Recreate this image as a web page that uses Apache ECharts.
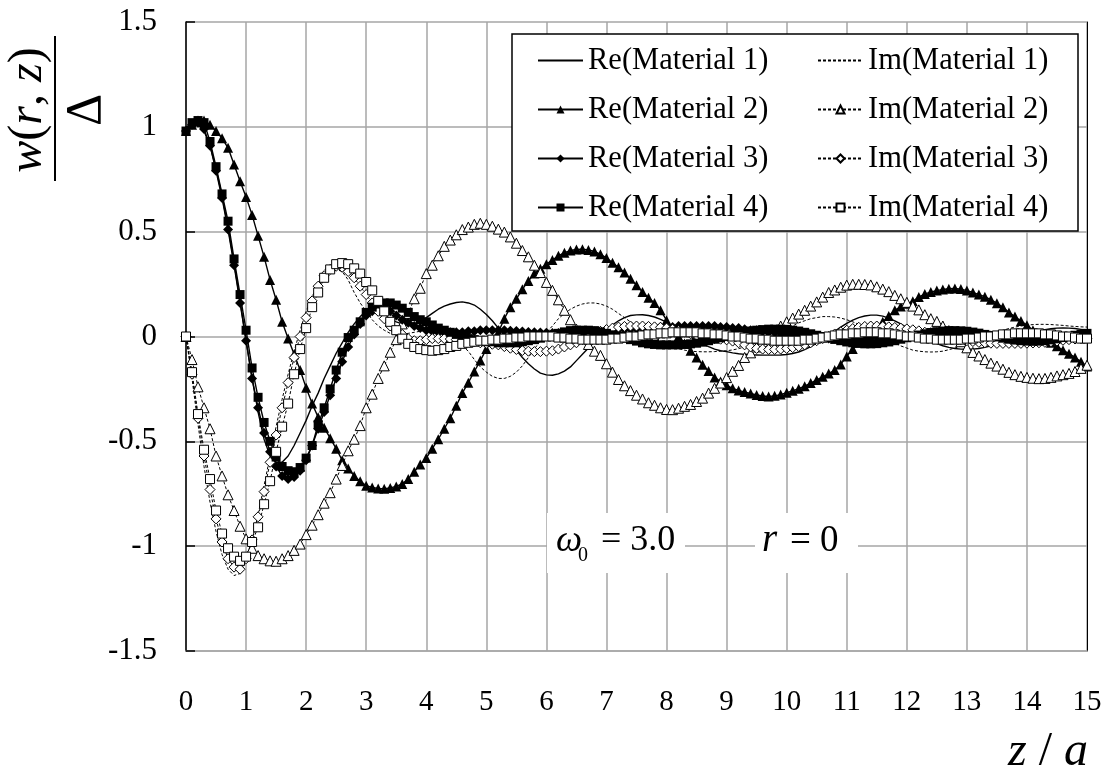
<!DOCTYPE html>
<html>
<head>
<meta charset="utf-8">
<script src="https://cdn.jsdelivr.net/npm/echarts@6/dist/echarts.min.js"></script>
<style>
html,body{margin:0;padding:0;background:#fff;}
#chart{width:1108px;height:777px;}
</style>
</head>
<body>
<div id="chart"></div>
<script>
const zValues = [0,0.1,0.2,0.3,0.4,0.5,0.6,0.7,0.8,0.9,
1,1.1,1.2,1.3,1.4,1.5,1.6,1.7,1.8,1.9,
2,2.1,2.2,2.3,2.4,2.5,2.6,2.7,2.8,2.9,
3,3.1,3.2,3.3,3.4,3.5,3.6,3.7,3.8,3.9,
4,4.1,4.2,4.3,4.4,4.5,4.6,4.7,4.8,4.9,
5,5.1,5.2,5.3,5.4,5.5,5.6,5.7,5.8,5.9,
6,6.1,6.2,6.3,6.4,6.5,6.6,6.7,6.8,6.9,
7,7.1,7.2,7.3,7.4,7.5,7.6,7.7,7.8,7.9,
8,8.1,8.2,8.3,8.4,8.5,8.6,8.7,8.8,8.9,
9,9.1,9.2,9.3,9.4,9.5,9.6,9.7,9.8,9.9,
10,10.1,10.2,10.3,10.4,10.5,10.6,10.7,10.8,10.9,
11,11.1,11.2,11.3,11.4,11.5,11.6,11.7,11.8,11.9,
12,12.1,12.2,12.3,12.4,12.5,12.6,12.7,12.8,12.9,
13,13.1,13.2,13.3,13.4,13.5,13.6,13.7,13.8,13.9,
14,14.1,14.2,14.3,14.4,14.5,14.6,14.7,14.8,14.9,
15];

const reM1 = [1.0,1.01,1.01,0.98,0.91,0.8,0.67,0.52,0.35,0.17,
-0.02,-0.2,-0.36,-0.49,-0.57,-0.6,-0.6,-0.57,-0.52,-0.46,
-0.4,-0.33,-0.27,-0.2,-0.14,-0.08,-0.03,0.02,0.06,0.095,
0.12,0.12,0.11,0.1,0.085,0.07,0.06,0.055,0.06,0.07,
0.09,0.11,0.13,0.145,0.155,0.162,0.165,0.16,0.15,0.13,
0.105,0.075,0.04,0.005,-0.03,-0.065,-0.1,-0.13,-0.155,-0.175,
-0.183,-0.185,-0.178,-0.165,-0.145,-0.115,-0.085,-0.055,-0.025,0.0,
0.03,0.055,0.075,0.09,0.1,0.103,0.104,0.1,0.093,0.082,
0.068,0.05,0.033,0.015,-0.003,-0.02,-0.035,-0.048,-0.06,-0.068,
-0.072,-0.078,-0.082,-0.085,-0.087,-0.088,-0.089,-0.089,-0.089,-0.088,
-0.086,-0.081,-0.074,-0.063,-0.048,-0.032,-0.015,0.005,0.025,0.045,
0.063,0.078,0.09,0.098,0.102,0.102,0.097,0.088,0.075,0.06,
0.042,0.025,0.008,-0.008,-0.022,-0.034,-0.044,-0.052,-0.057,-0.06,
-0.061,-0.06,-0.057,-0.052,-0.045,-0.037,-0.028,-0.018,-0.008,0.002,
0.012,0.02,0.027,0.033,0.037,0.04,0.041,0.04,0.038,0.034,
0.03];

const imM1 = [0.0,-0.2,-0.42,-0.62,-0.79,-0.93,-1.04,-1.11,-1.14,-1.13,
-1.07,-0.97,-0.85,-0.71,-0.57,-0.43,-0.3,-0.18,-0.07,0.03,
0.12,0.19,0.25,0.29,0.315,0.32,0.31,0.27,0.21,0.16,
0.12,0.08,0.05,0.03,0.015,0.01,0.01,0.015,0.02,0.025,
0.03,0.03,0.025,0.015,0.0,-0.02,-0.045,-0.07,-0.11,-0.145,
-0.17,-0.19,-0.2,-0.2,-0.19,-0.17,-0.14,-0.1,-0.06,-0.02,
0.02,0.05,0.085,0.11,0.13,0.145,0.155,0.16,0.16,0.155,
0.145,0.13,0.11,0.09,0.07,0.05,0.03,0.01,-0.005,-0.02,
-0.035,-0.048,-0.058,-0.065,-0.07,-0.072,-0.073,-0.073,-0.072,-0.07,
-0.068,-0.064,-0.058,-0.05,-0.04,-0.03,-0.018,-0.005,0.005,0.02,
0.035,0.05,0.065,0.075,0.085,0.09,0.095,0.095,0.093,0.088,
0.08,0.07,0.058,0.045,0.03,0.015,0.0,-0.015,-0.03,-0.045,
-0.055,-0.065,-0.07,-0.073,-0.074,-0.073,-0.07,-0.063,-0.055,-0.045,
-0.035,-0.025,-0.013,0.0,0.01,0.02,0.03,0.038,0.045,0.05,
0.054,0.057,0.058,0.058,0.057,0.055,0.053,0.05,0.048,0.046,
0.045];

const reM2 = [0.98,1.01,1.03,1.03,1.01,0.98,0.945,0.9,0.82,0.74,
0.665,0.58,0.48,0.38,0.27,0.175,0.07,-0.01,-0.085,-0.16,
-0.245,-0.32,-0.385,-0.435,-0.485,-0.535,-0.59,-0.63,-0.665,-0.69,
-0.712,-0.72,-0.725,-0.726,-0.722,-0.715,-0.703,-0.68,-0.645,-0.61,
-0.58,-0.535,-0.49,-0.44,-0.39,-0.33,-0.27,-0.22,-0.167,-0.115,
-0.06,-0.02,0.02,0.085,0.14,0.18,0.225,0.265,0.3,0.323,
0.345,0.365,0.385,0.4,0.41,0.415,0.416,0.413,0.406,0.392,
0.375,0.352,0.33,0.305,0.275,0.245,0.212,0.185,0.16,0.125,
0.078,0.038,0.0,-0.033,-0.068,-0.1,-0.135,-0.165,-0.195,-0.215,
-0.233,-0.247,-0.257,-0.265,-0.272,-0.279,-0.284,-0.286,-0.283,-0.277,
-0.268,-0.259,-0.249,-0.237,-0.222,-0.207,-0.192,-0.177,-0.16,-0.133,
-0.095,-0.06,-0.028,0.0,0.022,0.042,0.07,0.098,0.125,0.143,
0.156,0.168,0.188,0.203,0.212,0.219,0.224,0.228,0.229,0.226,
0.219,0.21,0.2,0.19,0.175,0.159,0.139,0.115,0.095,0.074,
0.054,0.03,0.006,-0.01,-0.03,-0.047,-0.065,-0.082,-0.1,-0.12,
-0.143];

const imM2 = [0.0,-0.11,-0.24,-0.34,-0.44,-0.57,-0.665,-0.755,-0.83,-0.905,
-0.965,-1.01,-1.045,-1.06,-1.07,-1.072,-1.06,-1.045,-1.02,-0.99,
-0.945,-0.9,-0.85,-0.795,-0.745,-0.68,-0.615,-0.545,-0.49,-0.425,
-0.34,-0.275,-0.2,-0.14,-0.075,-0.015,0.06,0.11,0.18,0.23,
0.3,0.34,0.385,0.43,0.46,0.485,0.51,0.522,0.535,0.54,
0.535,0.526,0.512,0.498,0.475,0.445,0.41,0.38,0.34,0.305,
0.258,0.22,0.175,0.125,0.08,0.035,0.0,-0.038,-0.07,-0.09,
-0.13,-0.17,-0.205,-0.235,-0.258,-0.28,-0.298,-0.316,-0.328,-0.34,
-0.348,-0.349,-0.342,-0.333,-0.324,-0.31,-0.294,-0.27,-0.247,-0.222,
-0.196,-0.166,-0.138,-0.1,-0.078,-0.05,-0.025,0.005,0.028,0.05,
0.07,0.088,0.107,0.125,0.145,0.165,0.188,0.21,0.222,0.235,
0.245,0.249,0.249,0.248,0.246,0.237,0.226,0.214,0.196,0.18,
0.163,0.145,0.127,0.104,0.085,0.072,0.05,0.028,0.003,-0.025,
-0.054,-0.076,-0.093,-0.11,-0.127,-0.141,-0.156,-0.171,-0.182,-0.19,
-0.195,-0.199,-0.201,-0.2,-0.195,-0.188,-0.182,-0.176,-0.167,-0.152,
-0.137];

const reM3 = [0.98,1.01,1.02,0.99,0.91,0.79,0.66,0.51,0.34,0.16,
-0.02,-0.2,-0.34,-0.46,-0.55,-0.62,-0.665,-0.68,-0.67,-0.64,
-0.59,-0.52,-0.44,-0.36,-0.28,-0.2,-0.12,-0.05,0.01,0.06,
0.1,0.12,0.13,0.13,0.12,0.1,0.08,0.065,0.05,0.04,
0.03,0.025,0.02,0.02,0.02,0.02,0.02,0.025,0.025,0.03,
0.03,0.03,0.03,0.03,0.028,0.026,0.024,0.022,0.02,0.019,
0.018,0.017,0.017,0.017,0.018,0.019,0.02,0.022,0.024,0.026,
0.028,0.03,0.032,0.034,0.036,0.038,0.04,0.042,0.044,0.045,
0.045,0.045,0.05,0.05,0.05,0.05,0.05,0.05,0.05,0.045,
0.045,0.04,0.04,0.035,0.03,0.03,0.025,0.02,0.02,0.015,
0.01,0.01,0.005,0.0,0.0,-0.005,-0.005,-0.01,-0.01,-0.01,
-0.01,-0.01,-0.01,-0.005,-0.005,0.0,0.0,0.005,0.01,0.01,
0.015,0.015,0.02,0.02,0.02,0.02,0.02,0.02,0.02,0.015,
0.015,0.01,0.01,0.005,0.005,0.0,0.0,-0.005,-0.005,-0.01,
-0.01,-0.01,-0.01,-0.01,-0.01,-0.01,-0.01,-0.005,-0.005,0.0,
0.0];

const imM3 = [0.0,-0.18,-0.39,-0.57,-0.73,-0.87,-0.98,-1.06,-1.1,-1.11,
-1.06,-0.97,-0.86,-0.74,-0.6,-0.47,-0.34,-0.22,-0.1,0.0,
0.09,0.17,0.24,0.29,0.32,0.335,0.33,0.31,0.28,0.24,
0.2,0.16,0.12,0.085,0.05,0.027,0.01,-0.01,-0.02,-0.02,
-0.015,-0.01,-0.01,-0.01,-0.012,-0.015,-0.018,-0.022,-0.026,-0.03,
-0.033,-0.037,-0.04,-0.048,-0.056,-0.062,-0.067,-0.07,-0.072,-0.072,
-0.07,-0.068,-0.06,-0.05,-0.04,-0.03,-0.015,0.0,0.012,0.024,
0.033,0.04,0.045,0.048,0.05,0.05,0.05,0.048,0.046,0.044,
0.04,0.035,0.028,0.02,0.013,0.006,0.0,-0.005,-0.01,-0.013,
-0.016,-0.022,-0.03,-0.04,-0.05,-0.057,-0.06,-0.062,-0.062,-0.06,
-0.057,-0.053,-0.048,-0.04,-0.03,-0.02,-0.01,0.0,0.012,0.022,
0.03,0.038,0.044,0.048,0.05,0.05,0.048,0.046,0.043,0.04,
0.036,0.032,0.027,0.02,0.014,0.008,0.002,-0.004,-0.01,-0.015,
-0.02,-0.024,-0.028,-0.03,-0.032,-0.033,-0.033,-0.033,-0.033,-0.033,
-0.032,-0.031,-0.03,-0.028,-0.025,-0.022,-0.018,-0.015,-0.012,-0.01,
-0.008];

const reM4 = [0.98,1.02,1.03,1.02,0.93,0.81,0.68,0.55,0.37,0.2,
0.03,-0.15,-0.29,-0.41,-0.5,-0.575,-0.62,-0.64,-0.645,-0.625,
-0.58,-0.52,-0.42,-0.34,-0.25,-0.16,-0.075,-0.005,0.03,0.07,
0.115,0.14,0.155,0.16,0.16,0.15,0.135,0.115,0.095,0.08,
0.07,0.055,0.04,0.03,0.02,0.01,0.0,-0.01,-0.015,-0.02,
-0.025,-0.025,-0.03,-0.03,-0.03,-0.03,-0.025,-0.02,-0.015,-0.008,
0.0,0.008,0.015,0.022,0.028,0.03,0.03,0.03,0.028,0.022,
0.015,0.008,0.0,-0.008,-0.015,-0.022,-0.03,-0.035,-0.038,-0.04,
-0.04,-0.04,-0.04,-0.038,-0.035,-0.032,-0.027,-0.02,-0.013,-0.006,
0.0,0.007,0.014,0.02,0.026,0.03,0.033,0.035,0.035,0.035,
0.034,0.03,0.026,0.02,0.013,0.006,0.0,-0.007,-0.014,-0.02,
-0.026,-0.03,-0.033,-0.035,-0.035,-0.034,-0.03,-0.026,-0.02,-0.013,
-0.006,0.0,0.007,0.013,0.019,0.023,0.026,0.028,0.028,0.027,
0.025,0.021,0.016,0.01,0.004,-0.002,-0.008,-0.013,-0.017,-0.02,
-0.022,-0.023,-0.022,-0.02,-0.016,-0.011,-0.005,0.0,0.006,0.011,
0.015];

const imM4 = [0.0,-0.17,-0.37,-0.54,-0.68,-0.83,-0.94,-1.01,-1.05,-1.07,
-1.05,-0.98,-0.91,-0.8,-0.69,-0.55,-0.43,-0.32,-0.18,-0.06,
0.04,0.14,0.21,0.28,0.32,0.345,0.35,0.345,0.325,0.3,
0.26,0.22,0.17,0.12,0.07,0.03,-0.01,-0.035,-0.05,-0.06,
-0.065,-0.068,-0.065,-0.06,-0.05,-0.045,-0.035,-0.03,-0.025,-0.02,
-0.02,-0.015,-0.015,-0.01,-0.01,-0.005,-0.005,0.0,0.0,0.0,
0.0,0.0,-0.005,-0.005,-0.01,-0.01,-0.015,-0.015,-0.015,-0.015,
-0.015,-0.01,-0.01,-0.005,0.0,0.0,0.005,0.01,0.01,0.015,
0.015,0.02,0.02,0.02,0.02,0.02,0.015,0.015,0.01,0.01,
0.005,0.0,0.0,-0.005,-0.01,-0.01,-0.015,-0.015,-0.02,-0.02,
-0.02,-0.02,-0.02,-0.015,-0.015,-0.01,-0.005,0.0,0.005,0.01,
0.01,0.015,0.015,0.02,0.02,0.02,0.015,0.015,0.01,0.005,
0.0,0.0,-0.005,-0.01,-0.01,-0.015,-0.015,-0.015,-0.015,-0.015,
-0.01,-0.01,-0.005,0.0,0.0,0.005,0.01,0.01,0.015,0.015,
0.015,0.015,0.015,0.01,0.01,0.005,0.0,0.0,-0.005,-0.01,
-0.01];

const seriesNames = ['Re(Material 1)','Im(Material 1)','Re(Material 2)','Im(Material 2)',
                     'Re(Material 3)','Im(Material 3)','Re(Material 4)','Im(Material 4)'];
const xTickLabels = ['0','1','2','3','4','5','6','7','8','9','10','11','12','13','14','15'];

const FONT = '"Liberation Serif", "Times New Roman", serif';
const pairs = arr => zValues.map((z, i) => [z, arr[i]]);

function makeSeries(name, arr, symbol, size, isDashed) {
  const noMarker = !symbol;
  return {
    name, type: 'line', data: pairs(arr), silent: true,
    symbol: symbol || 'circle', symbolSize: size || 8,
    showSymbol: !noMarker, showAllSymbol: true,
    lineStyle: isDashed ? { color: '#000', width: 1, type: [3, 2] } : { color: '#000', width: 1.4, type: 'solid' },
    itemStyle: noMarker ? { color: 'rgba(0,0,0,0)', borderColor: 'rgba(0,0,0,0)', borderWidth: 0 }
             : (isDashed ? { color: '#fff', borderColor: '#000', borderWidth: 1 }
                         : { color: '#000', borderColor: '#000', borderWidth: 0 }),
    emphasis: { disabled: true }, animation: false
  };
}

const chart = echarts.init(document.getElementById('chart'), null, { renderer: 'canvas' });

const legendBase = {
  orient: 'vertical', top: 45, itemWidth: 45, itemHeight: 10, itemGap: 18, padding: 0,
  selectedMode: false,
  textStyle: { fontFamily: FONT, fontSize: 30.5, lineHeight: 30.5, color: '#000' }
};
const legItem = (name, hidden) => hidden ? { name, itemStyle: { opacity: 0 } } : { name };

const option = {
  animation: false,
  backgroundColor: '#fff',
  grid: { left: 186, right: 21, top: 22, bottom: 126, containLabel: false },
  xAxis: {
    type: 'value', min: 0, max: 15, interval: 1,
    axisLine: { show: true, onZero: false, lineStyle: { color: '#a6a6a6', width: 1.5 } },
    axisTick: { show: false },
    axisLabel: { fontFamily: FONT, fontSize: 29, color: '#000', margin: 37,
      formatter: v => xTickLabels[Math.round(v)] },
    splitLine: { show: true, lineStyle: { color: '#a6a6a6', width: 1.5 } }
  },
  yAxis: [{
    type: 'value', min: -1.5, max: 1.5, interval: 0.5,
    axisLine: { show: true, onZero: false, lineStyle: { color: '#000', width: 1.5 } },
    axisTick: { show: true, inside: true, length: 9, lineStyle: { color: '#000', width: 1.5 } },
    axisLabel: { fontFamily: FONT, fontSize: 31, color: '#000', margin: 29 },
    splitLine: { show: true, lineStyle: { color: '#a6a6a6', width: 1.5 } }
  }, {
    type: 'value', min: -1.5, max: 1.5, interval: 0.5, position: 'right',
    axisLine: { show: true, onZero: false, lineStyle: { color: '#000', width: 1 } },
    axisTick: { show: false }, axisLabel: { show: false }, splitLine: { show: false }
  }],
  legend: [
    Object.assign({}, legendBase, { left: 537,
      data: [legItem(seriesNames[0], true), legItem(seriesNames[2]), legItem(seriesNames[4]), legItem(seriesNames[6])] }),
    Object.assign({}, legendBase, { left: 817,
      data: [legItem(seriesNames[1], true), legItem(seriesNames[3]), legItem(seriesNames[5]), legItem(seriesNames[7])] })
  ],
  series: [
    makeSeries(seriesNames[0], reM1, null, 0, false),
    makeSeries(seriesNames[1], imM1, null, 0, true),
    makeSeries(seriesNames[2], reM2, 'triangle', 10, false),
    makeSeries(seriesNames[3], imM2, 'triangle', 10, true),
    makeSeries(seriesNames[4], reM3, 'diamond', 10, false),
    makeSeries(seriesNames[5], imM3, 'diamond', 10, true),
    makeSeries(seriesNames[6], reM4, 'rect', 9, false),
    makeSeries(seriesNames[7], imM4, 'rect', 9, true)
  ],
  graphic: [
    { type: 'rect', z: 3, shape: { x: 512, y: 34, width: 566, height: 197 },
      style: { fill: '#fff', stroke: '#000', lineWidth: 1.5 } },
    { type: 'rect', z: 3, shape: { x: 547, y: 513, width: 138, height: 60 }, style: { fill: '#fff' } },
    { type: 'rect', z: 3, shape: { x: 755, y: 513, width: 103, height: 60 }, style: { fill: '#fff' } },
    { type: 'text', z: 4, x: 556, y: 541,
      style: { text: 'ω', fontFamily: FONT, fontStyle: 'italic', fontSize: 37, fill: '#000', align: 'left', verticalAlign: 'middle' } },
    { type: 'text', z: 4, x: 578, y: 556,
      style: { text: '0', fontFamily: FONT, fontSize: 20, fill: '#000', align: 'left', verticalAlign: 'middle' } },
    { type: 'text', z: 4, x: 601, y: 541,
      style: { text: '= 3.0', fontFamily: FONT, fontSize: 36, fill: '#000', align: 'left', verticalAlign: 'middle' } },
    { type: 'text', z: 4, x: 762, y: 541,
      style: { text: 'r', fontFamily: FONT, fontStyle: 'italic', fontSize: 39, fill: '#000', align: 'left', verticalAlign: 'middle' } },
    { type: 'text', z: 4, x: 790, y: 541,
      style: { text: '= 0', fontFamily: FONT, fontSize: 37, fill: '#000', align: 'left', verticalAlign: 'middle' } },
    { type: 'text', z: 4, x: 1088, y: 752,
      style: { text: '{i|z} / {i|a}', fontFamily: FONT, fontSize: 48, fill: '#000', align: 'right', verticalAlign: 'middle',
        rich: { i: { fontFamily: FONT, fontStyle: 'italic', fontSize: 48, fill: '#000' } } } },
    { type: 'text', z: 4, x: 28, y: 110, rotation: Math.PI / 2,
      style: { text: '{i|w}({i|r}, {i|z})', fontFamily: FONT, fontSize: 48, fill: '#000', align: 'center', verticalAlign: 'middle',
        rich: { i: { fontFamily: FONT, fontStyle: 'italic', fontSize: 48, fill: '#000' } } } },
    { type: 'line', z: 4, shape: { x1: 55, y1: 36, x2: 55, y2: 181 }, style: { stroke: '#000', lineWidth: 2 } },
    { type: 'text', z: 4, x: 87, y: 110, rotation: Math.PI / 2,
      style: { text: 'Δ', fontFamily: FONT, fontSize: 50, fill: '#000', align: 'center', verticalAlign: 'middle' } }
  ]
};
chart.setOption(option);
</script>
</body>
</html>
